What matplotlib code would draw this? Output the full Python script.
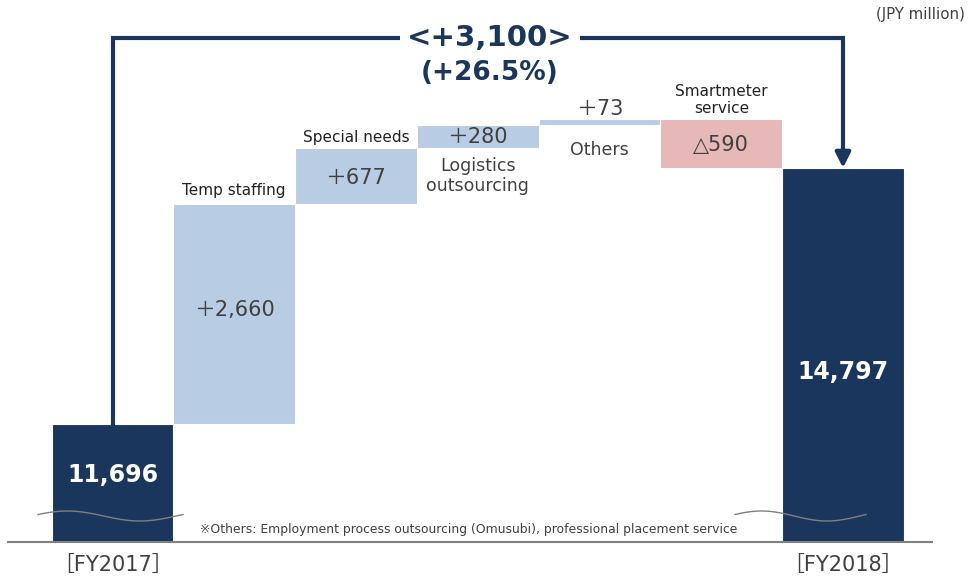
import numpy as np
import matplotlib
matplotlib.use("Agg")
import matplotlib.pyplot as plt

# ---- data ----
start_label = "［FY2017］"
end_label = "［FY2018］"
start_value = 11696
end_value = 14797
step_names = ["Temp staffing", "Special needs", "Logistics\noutsourcing", "Others", "Smartmeter\nservice"]
step_values = [2660, 677, 280, 73, -590]
step_texts = ["＋2,660", "＋677", "＋280", "＋73", "△590"]
total_change_text = "<+3,100>"
total_pct_text = "(+26.5%)"
unit_text = "(JPY million)"
footnote = "※Others: Employment process outsourcing (Omusubi), professional placement service"

NAVY = "#1b365d"
LBLUE = "#b8cce4"
PINK = "#e6b8b7"
TXT = "#404040"

W, H = 974, 579
fig = plt.figure(figsize=(W / 100, H / 100), dpi=100)
# axes: x pixels 8..932, y pixels 0..542
ax = fig.add_axes([8 / W, (H - 542) / H, (932 - 8) / W, 542 / H])
ypx = 12.11  # value units per pixel
ybase = start_value - 118 * ypx
ax.set_ylim(ybase, ybase + 542 * ypx)
xspace = 121.75
ax.set_xlim((8 - 112.5) / xspace, (932 - 112.5) / xspace)
ax.set_axis_off()
ax.axhline(ybase, color="#808080", lw=1.5, clip_on=False, zorder=5)

fam = ["DejaVu Sans", "Noto Sans CJK JP"]

# start bar
ax.bar(0, start_value, width=1.0, color=NAVY, edgecolor="white", lw=0.8, zorder=2)
# steps
level = start_value
n = len(step_values)
for i, v in enumerate(step_values):
    x = i + 1
    bottom = level if v >= 0 else level + v
    col = LBLUE if v >= 0 else PINK
    ax.bar(x, abs(v), bottom=bottom, width=1.0, color=col, edgecolor="white", lw=0.8, zorder=2)
    level += v
end_x = n + 1
ax.bar(end_x, end_value, width=1.0, color=NAVY, edgecolor="white", lw=0.8, zorder=2)

def py(p):
    """pixel y -> data y"""
    return ybase + (542 - p) * ypx

# value labels
ax.text(0, py(475), f"{start_value:,}", ha="center", va="center", color="white",
        fontsize=17, fontweight="bold", zorder=6)
ax.text(end_x, py(372), f"{end_value:,}", ha="center", va="center", color="white",
        fontsize=17, fontweight="bold", zorder=6)

fs_val = 15
fs_name = 11
# Temp staffing
ax.text(1, py(310), step_texts[0], ha="center", va="center", color=TXT, fontsize=fs_val, family=fam)
ax.text(1, py(190), step_names[0], ha="center", va="center", color="#222222", fontsize=fs_name)
# Special needs
ax.text(2, py(178), step_texts[1], ha="center", va="center", color=TXT, fontsize=fs_val, family=fam)
ax.text(2, py(137), step_names[1], ha="center", va="center", color="#222222", fontsize=fs_name)
# Logistics
ax.text(3, py(137), step_texts[2], ha="center", va="center", color=TXT, fontsize=fs_val, family=fam)
ax.text(3, py(176), step_names[2], ha="center", va="center", color=TXT, fontsize=12.5,
        linespacing=1.1)
# Others
ax.text(4, py(109), step_texts[3], ha="center", va="center", color=TXT, fontsize=fs_val, family=fam)
ax.text(4, py(150), step_names[3], ha="center", va="center", color=TXT, fontsize=12.5)
# Smartmeter
ax.text(5, py(145), step_texts[4], ha="center", va="center", color=TXT, fontsize=fs_val,
        family=fam)
ax.text(5, py(100), step_names[4], ha="center", va="center", color="#222222", fontsize=fs_name,
        linespacing=1.15)

# bridge line with arrow
ytop = py(38)
ax.plot([0, 0, end_x, end_x], [start_value, ytop, ytop, py(150)], color=NAVY, lw=3,
        solid_joinstyle="miter", zorder=3, clip_on=False)
ax.annotate("", xy=(end_x, end_value), xytext=(end_x, py(148)),
            arrowprops=dict(arrowstyle="-|>,head_length=0.9,head_width=0.45", color=NAVY, lw=3,
                            shrinkA=0, shrinkB=0), zorder=4)
xc = (490 - 112.5) / xspace
ax.text(xc, ytop, total_change_text, ha="center", va="center", color=NAVY, fontsize=21,
        fontweight="bold", zorder=5,
        bbox=dict(boxstyle="square,pad=0.25", fc="white", ec="none"))
ax.text(xc, py(73), total_pct_text, ha="center", va="center", color=NAVY, fontsize=19,
        fontweight="bold", zorder=5)

# unit
fig.text(920 / W, 1 - 15 / H, unit_text, ha="center", va="center", color=TXT, fontsize=10.8)

# footnote
ax.text((200 - 112.5) / xspace, py(529), footnote, ha="left", va="center", color=TXT, fontsize=8.9)

# category labels
ax.text(0, py(565), start_label, ha="center", va="center", color=TXT, fontsize=15, family=fam,
        clip_on=False)
ax.text(end_x, py(565), end_label, ha="center", va="center", color=TXT, fontsize=15, family=fam,
        clip_on=False)

# axis-break wavy lines (decoration)
def wave(x0, x1, yc):
    t = np.linspace(0, 1, 60)
    xs = x0 + (x1 - x0) * t
    ys = yc + 5 * ypx * np.sin(2 * np.pi * t * 1.0 + 0.3)
    ax.plot(xs, ys, color="#808080", lw=1.0, zorder=4)
wave((38 - 112.5) / xspace, (183 - 112.5) / xspace, py(516))
wave((735 - 112.5) / xspace, (866 - 112.5) / xspace, py(516))

fig.savefig("out.png", dpi=100, facecolor="white")
